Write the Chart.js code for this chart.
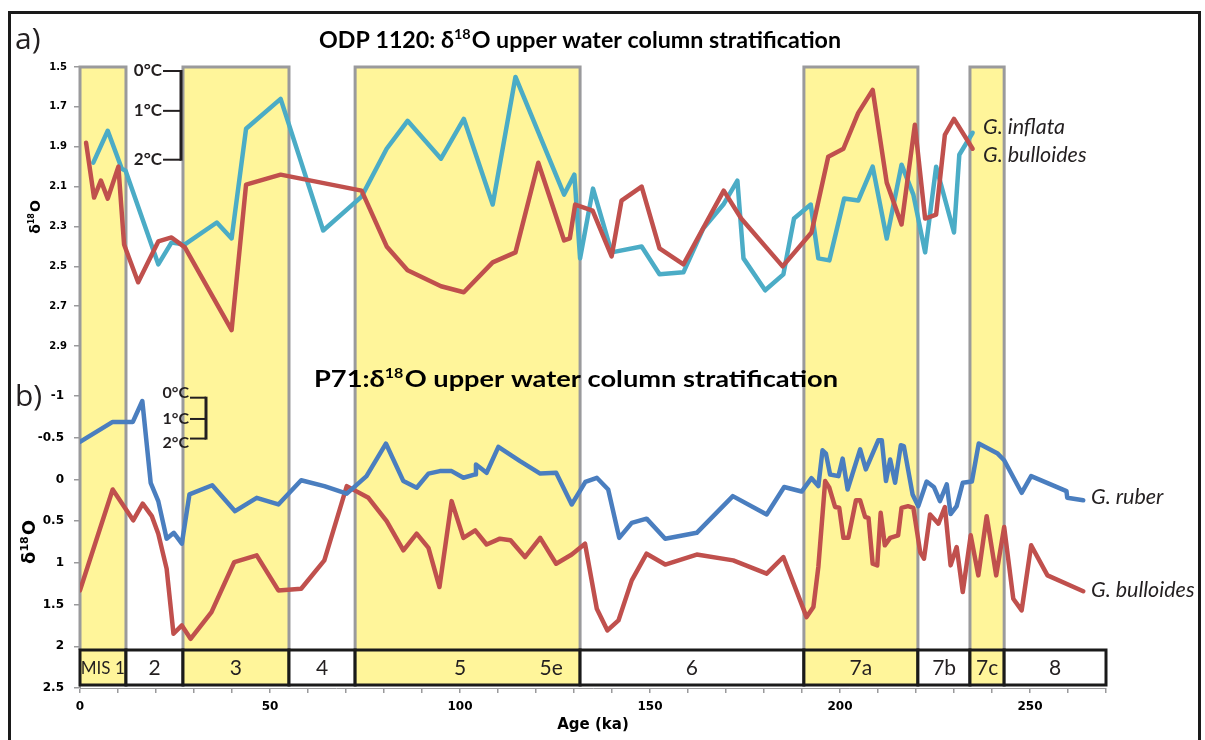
<!DOCTYPE html>
<html>
<head>
<meta charset="utf-8">
<title>δ18O upper water column stratification</title>
<script src="https://cdn.jsdelivr.net/npm/chart.js@4.4.1/dist/chart.umd.min.js"></script>
<style>
  html, body { margin: 0; padding: 0; background: #fff; }
  canvas { display: block; }
</style>
</head>
<body>
<canvas id="stratChart" width="1205" height="740"></canvas>
<script>
// ODP 1120 (panel a)
const odpInflataAge = [3.5, 7.3, 11.0, 12.0, 20.6, 24.1, 27.6, 36.0, 39.9, 43.7, 52.8, 64.0, 74.1, 80.7, 86.2, 95.0, 101.0, 108.6, 114.6, 127.4, 130.1, 131.6, 135.0, 139.9, 147.8, 152.5, 158.8, 164.0, 169.3, 173.0, 174.6, 180.3, 185.1, 187.9, 192.3, 194.3, 197.2, 201.1, 204.8, 208.6, 212.3, 216.2, 219.3, 222.4, 225.3, 230.0, 231.4, 234.9];
const odpInflataD18O = [1.98, 1.82, 2.01, 2.02, 2.49, 2.38, 2.39, 2.28, 2.36, 1.81, 1.66, 2.32, 2.15, 1.91, 1.77, 1.96, 1.76, 2.19, 1.55, 2.14, 2.04, 2.46, 2.11, 2.43, 2.40, 2.54, 2.53, 2.31, 2.19, 2.07, 2.46, 2.62, 2.54, 2.26, 2.19, 2.46, 2.47, 2.16, 2.17, 2.00, 2.36, 1.99, 2.14, 2.43, 2.00, 2.33, 1.94, 1.83];
const odpBulloidesAge = [1.6, 3.7, 5.5, 7.3, 10.1, 11.6, 15.3, 20.6, 24.1, 27.6, 39.9, 43.7, 52.8, 74.1, 80.7, 86.2, 95.0, 101.0, 108.6, 114.6, 120.6, 127.4, 128.9, 130.3, 134.9, 139.9, 142.5, 147.8, 152.5, 158.8, 169.4, 174.0, 184.9, 192.5, 196.9, 200.9, 204.8, 208.6, 212.3, 216.2, 219.7, 222.4, 225.3, 227.6, 230.0, 234.9];
const odpBulloidesD18O = [1.88, 2.155, 2.07, 2.16, 2.00, 2.39, 2.58, 2.375, 2.355, 2.405, 2.82, 2.09, 2.04, 2.12, 2.40, 2.52, 2.60, 2.63, 2.48, 2.43, 1.98, 2.37, 2.36, 2.19, 2.22, 2.45, 2.17, 2.10, 2.41, 2.49, 2.12, 2.26, 2.50, 2.33, 1.95, 1.91, 1.73, 1.615, 2.08, 2.29, 1.79, 2.26, 2.24, 1.84, 1.76, 1.91];

// P71 (panel b)
const p71RuberAge = [0, 8.6, 13.9, 16.4, 18.6, 20.6, 22.8, 24.7, 26.8, 28.8, 34.8, 40.8, 46.5, 52.2, 58.2, 64.3, 70.2, 75.4, 80.5, 85.1, 88.6, 91.7, 94.7, 97.8, 100.9, 104.0, 104.2, 107.0, 110.1, 115.8, 121.1, 125.3, 129.4, 133.0, 136.0, 139.0, 141.9, 145.2, 149.1, 154.0, 162.3, 171.8, 180.7, 185.3, 189.9, 192.5, 194.3, 195.4, 196.3, 197.4, 199.6, 200.7, 202.0, 205.3, 206.8, 210.1, 211.0, 212.1, 213.2, 214.5, 216.0, 216.8, 219.1, 220.6, 222.8, 224.7, 226.3, 228.1, 229.1, 230.7, 232.3, 234.7, 236.5, 241.5, 243.2, 247.8, 250.3, 259.6, 259.8, 264.0];
const p71RuberD18O = [-0.45, -0.69, -0.69, -0.94, 0.04, 0.26, 0.71, 0.64, 0.77, 0.18, 0.07, 0.38, 0.22, 0.30, 0.01, 0.08, 0.17, -0.04, -0.43, 0.02, 0.10, -0.07, -0.10, -0.10, -0.02, -0.06, -0.18, -0.08, -0.39, -0.22, -0.07, -0.08, 0.30, 0.03, -0.02, 0.12, 0.70, 0.52, 0.47, 0.71, 0.64, 0.20, 0.42, 0.09, 0.145, -0.015, 0.08, -0.35, -0.31, -0.06, -0.04, -0.25, 0.12, -0.36, -0.12, -0.47, -0.47, 0.02, -0.24, 0.04, -0.41, -0.40, 0.18, 0.32, 0.025, 0.09, 0.26, 0.06, 0.415, 0.32, 0.04, 0.025, -0.43, -0.31, -0.23, 0.16, -0.04, 0.14, 0.22, 0.25];
const p71BulloidesAge = [0, 8.6, 14.0, 16.5, 18.9, 20.6, 22.8, 24.6, 26.8, 29.1, 34.6, 40.6, 46.5, 52.2, 58.2, 64.3, 70.2, 75.9, 80.7, 85.1, 88.6, 91.7, 94.6, 97.8, 100.9, 104.0, 107.0, 110.5, 113.3, 117.1, 121.1, 125.3, 129.4, 132.9, 136.0, 138.8, 141.7, 145.2, 149.1, 154.0, 162.3, 171.9, 180.7, 185.1, 191.2, 193.0, 194.3, 196.1, 197.2, 198.7, 199.8, 200.9, 202.2, 204.2, 205.3, 206.6, 207.5, 208.6, 209.8, 210.7, 211.8, 213.2, 215.3, 216.2, 217.9, 219.3, 221.1, 222.1, 223.7, 225.9, 227.6, 229.1, 230.7, 232.3, 234.4, 236.4, 238.6, 241.1, 243.2, 245.6, 247.8, 250.3, 254.6, 264.0];
const p71BulloidesD18O = [1.33, 0.12, 0.49, 0.29, 0.44, 0.65, 1.07, 1.85, 1.75, 1.91, 1.59, 0.99, 0.91, 1.33, 1.31, 0.97, 0.08, 0.22, 0.50, 0.85, 0.65, 0.82, 1.29, 0.26, 0.70, 0.61, 0.78, 0.71, 0.73, 0.93, 0.70, 1.01, 0.90, 0.77, 1.55, 1.81, 1.69, 1.21, 0.89, 1.02, 0.90, 0.97, 1.13, 0.93, 1.65, 1.53, 1.05, 0.02, 0.10, 0.33, 0.34, 0.70, 0.70, 0.25, 0.25, 0.45, 0.46, 1.01, 1.03, 0.40, 0.79, 0.70, 0.67, 0.34, 0.32, 0.34, 0.87, 0.95, 0.42, 0.53, 0.33, 1.03, 0.81, 1.35, 0.67, 1.15, 0.44, 1.15, 0.57, 1.43, 1.57, 0.79, 1.15, 1.34];

// marine isotope stages (ka)
const misLabels = ['MIS 1', '2', '3', '4', '5', '6', '7a', '7b', '7c', '8'];
const misStart = [0, 12.1, 27.1, 55.0, 72.4, 131.6, 190.5, 220.5, 234.2, 243.2];
const misEnd = [12.1, 27.1, 55.0, 72.4, 131.6, 190.5, 220.5, 234.2, 243.2, 270];
const misWarm = [true, false, true, false, true, false, true, false, true, false];
const misLabelAge = [6, 19.6, 41, 63.7, 100, 161, 205.5, 227.4, 238.7, 256.6];
const subStageLabels = ['5e'];
const subStageAge = [124];

// axis ticks
const ageTicks = [0, 50, 100, 150, 200, 250];
const odpTicks = [1.5, 1.7, 1.9, 2.1, 2.3, 2.5, 2.7, 2.9];
const p71Ticks = [-1, -0.5, 0, 0.5, 1, 1.5, 2, 2.5];

// temperature scale bars (°C steps on each panel's δ18O axis)
const tempLabels = ['0°C', '1°C', '2°C'];
const odpTempD18O = [1.52, 1.72, 1.965];
const p71TempD18O = [-0.98, -0.725, -0.49];

const YELLOW = '#fff59a';
const BAND_EDGE = '#9a9a9c';
const INK = '#231f20';
const TICK_FONT = '"DejaVu Sans"';

const toPoints = (ages, vals) => ages.map((a, i) => ({x: a, y: vals[i]}));

// text with a superscript 18 after the delta; width, if given, stretches it horizontally
function drawDelta(ctx, before, after, x, y, size, center, family, width) {
  const big = `bold ${size}px ${family}`;
  const small = `bold ${Math.round(size * 0.6)}px ${family}`;
  ctx.font = big;
  const w1 = ctx.measureText(before).width;
  const w3 = ctx.measureText(after).width;
  ctx.font = small;
  const w2 = ctx.measureText('18').width;
  const natural = w1 + w2 + w3 + 1;
  const sx = width ? width / natural : 1;
  ctx.save();
  ctx.translate(center ? x - natural * sx / 2 : x, y);
  ctx.scale(sx, 1);
  ctx.textAlign = 'left';
  ctx.textBaseline = 'alphabetic';
  ctx.font = big;
  ctx.fillText(before, 0, 0);
  ctx.font = small;
  ctx.fillText('18', w1, -size * 0.4);
  ctx.font = big;
  ctx.fillText(after, w1 + w2 + 1, 0);
  ctx.restore();
}

function drawTempScale(ctx, scale, vals, textRight, barX, size, spread) {
  ctx.save();
  ctx.strokeStyle = INK;
  ctx.fillStyle = INK;
  ctx.lineWidth = 2;
  ctx.font = `bold ${size}px Lato`;
  ctx.textAlign = 'right';
  ctx.textBaseline = 'middle';
  const ys = vals.map(v => scale.getPixelForValue(v));
  ys.forEach((y, i) => {
    ctx.fillText(tempLabels[i], textRight, y + (i - 1) * spread);
    ctx.beginPath();
    ctx.moveTo(textRight + 1, y);
    ctx.lineTo(barX, y);
    ctx.stroke();
  });
  ctx.lineWidth = 3;
  ctx.beginPath();
  ctx.moveTo(barX, ys[0] - 1);
  ctx.lineTo(barX, ys[ys.length - 1] + 1);
  ctx.stroke();
  ctx.restore();
}

const stageBands = {
  id: 'stageBands',
  beforeDatasetsDraw(chart) {
    const {ctx, chartArea} = chart;
    const x = chart.scales.x;
    const top = chartArea.top;
    const stripTop = chartArea.bottom - 38;
    const stripBottom = chartArea.bottom - 3;
    ctx.save();
    // warm-stage bands across both panels
    misLabels.forEach((_, i) => {
      if (!misWarm[i]) return;
      const x0 = x.getPixelForValue(misStart[i]);
      const x1 = x.getPixelForValue(misEnd[i]);
      ctx.fillStyle = YELLOW;
      ctx.fillRect(x0, top, x1 - x0, stripTop - top);
      ctx.strokeStyle = BAND_EDGE;
      ctx.lineWidth = 3;
      ctx.beginPath();
      ctx.moveTo(x0, stripTop);
      ctx.lineTo(x0, top);
      ctx.lineTo(x1, top);
      ctx.lineTo(x1, stripTop);
      ctx.stroke();
    });
    // stage strip along the bottom
    misLabels.forEach((label, i) => {
      const x0 = x.getPixelForValue(misStart[i]);
      const x1 = x.getPixelForValue(misEnd[i]);
      ctx.fillStyle = misWarm[i] ? YELLOW : '#fff';
      ctx.fillRect(x0, stripTop, x1 - x0, stripBottom - stripTop);
      ctx.strokeStyle = '#1a1a1a';
      ctx.lineWidth = 3;
      ctx.strokeRect(x0, stripTop, x1 - x0, stripBottom - stripTop);
      ctx.fillStyle = INK;
      ctx.font = i === 0 ? '17px Lato' : '21px Lato';
      ctx.textAlign = 'center';
      ctx.textBaseline = 'middle';
      ctx.fillText(label, x.getPixelForValue(misLabelAge[i]), (stripTop + stripBottom) / 2 + 1);
    });
    subStageLabels.forEach((label, i) => {
      ctx.fillText(label, x.getPixelForValue(subStageAge[i]), (stripTop + stripBottom) / 2 + 1);
    });
    ctx.restore();
  }
};

const annotations = {
  id: 'annotations',
  afterDraw(chart) {
    const {ctx} = chart;
    const {ya, yb} = chart.scales;
    ctx.save();
    ctx.fillStyle = '#000';
    drawDelta(ctx, 'ODP 1120: δ', 'O upper water column stratification', 580, 48, 22.5, true, 'Lato', 522);
    drawDelta(ctx, 'P71:δ', 'O upper water column stratification', 576, 387, 22, true, 'Lato', 524);

    // rotated axis titles
    ctx.save();
    ctx.translate(40, 217);
    ctx.rotate(-Math.PI / 2);
    drawDelta(ctx, 'δ', 'O', 0, 0, 14, true, TICK_FONT);
    ctx.restore();
    ctx.save();
    ctx.translate(35, 542);
    ctx.rotate(-Math.PI / 2);
    drawDelta(ctx, 'δ', 'O', 0, 0, 18, true, TICK_FONT);
    ctx.restore();

    drawTempScale(ctx, ya, odpTempD18O, 162, 181, 17, 0);
    drawTempScale(ctx, yb, p71TempD18O, 189, 206, 16, 4.5);

    ctx.fillStyle = INK;
    ctx.font = '30px "Open Sans"';
    ctx.textAlign = 'left';
    ctx.textBaseline = 'middle';
    ctx.fillText('a)', 15, 40);
    ctx.fillText('b)', 15, 397);

    ctx.font = 'italic 21.5px Lato';
    ctx.fillText('G. inflata', 983, 127);
    ctx.fillText('G. bulloides', 983, 155);
    ctx.fillText('G. ruber', 1091, 497);
    ctx.fillText('G. bulloides', 1091, 590);

    // outer frame
    ctx.strokeStyle = '#1a1a1a';
    ctx.lineWidth = 3;
    ctx.strokeRect(9.5, 12.5, 1190, 760);
    ctx.restore();
  }
};

const lineStyle = {
  borderWidth: 4.5,
  pointRadius: 0,
  tension: 0,
  borderJoinStyle: 'round',
  borderCapStyle: 'round'
};

new Chart(document.getElementById('stratChart'), {
  type: 'line',
  data: {
    datasets: [
      {...lineStyle, label: 'G. bulloides (ODP 1120)', data: toPoints(odpBulloidesAge, odpBulloidesD18O), borderColor: '#c0504d', yAxisID: 'ya'},
      {...lineStyle, label: 'G. inflata (ODP 1120)', data: toPoints(odpInflataAge, odpInflataD18O), borderColor: '#4bacc6', yAxisID: 'ya'},
      {...lineStyle, label: 'G. ruber (P71)', data: toPoints(p71RuberAge, p71RuberD18O), borderColor: '#4a7ebf', yAxisID: 'yb'},
      {...lineStyle, label: 'G. bulloides (P71)', data: toPoints(p71BulloidesAge, p71BulloidesD18O), borderColor: '#c0504d', yAxisID: 'yb'}
    ]
  },
  options: {
    responsive: false,
    animation: false,
    layout: {padding: {top: 67, right: 99, left: 0, bottom: 0}},
    plugins: {
      legend: {display: false},
      title: {display: false},
      tooltip: {enabled: false}
    },
    scales: {
      x: {
        type: 'linear',
        min: 0,
        max: 270,
        afterFit: s => { s.height = 52; },
        ticks: {
          stepSize: 10,
          autoSkip: false,
          maxRotation: 0,
          padding: 7,
          color: '#000',
          font: {family: TICK_FONT, weight: 'bold', size: 12},
          callback: v => (ageTicks.includes(v) ? v : '')
        },
        grid: {drawOnChartArea: false, tickLength: 5, color: '#9a9a9c', lineWidth: 1.5},
        border: {color: '#9a9a9c', width: 1},
        title: {
          display: true,
          text: 'Age (ka)',
          color: '#000',
          font: {family: TICK_FONT, weight: 'bold', size: 15},
          padding: {top: 0, bottom: 6}
        }
      },
      yb: {
        type: 'linear',
        position: 'left',
        stack: 'panels',
        stackWeight: 312,
        reverse: true,
        min: -1.24,
        max: 2.5,
        afterFit: s => { s.width = 80; },
        afterBuildTicks: s => { s.ticks = p71Ticks.map(v => ({value: v})); },
        ticks: {
          padding: 10,
          color: '#000',
          font: {family: TICK_FONT, weight: 'bold', size: 12},
          callback: v => String(v)
        },
        grid: {drawOnChartArea: false, tickLength: 6, color: '#9a9a9c', lineWidth: 1.5},
        border: {color: '#9a9a9c', width: 2}
      },
      ya: {
        type: 'linear',
        position: 'left',
        stack: 'panels',
        stackWeight: 309,
        reverse: true,
        min: 1.5,
        max: 3.05,
        afterFit: s => { s.width = 80; },
        afterBuildTicks: s => { s.ticks = odpTicks.map(v => ({value: v})); },
        ticks: {
          padding: 7,
          color: '#000',
          font: {family: TICK_FONT, weight: 'bold', size: 10},
          callback: v => v.toFixed(1)
        },
        grid: {drawOnChartArea: false, tickLength: 6, color: '#9a9a9c', lineWidth: 1.5},
        border: {color: '#9a9a9c', width: 2}
      }
    }
  },
  plugins: [stageBands, annotations]
});
</script>
</body>
</html>
